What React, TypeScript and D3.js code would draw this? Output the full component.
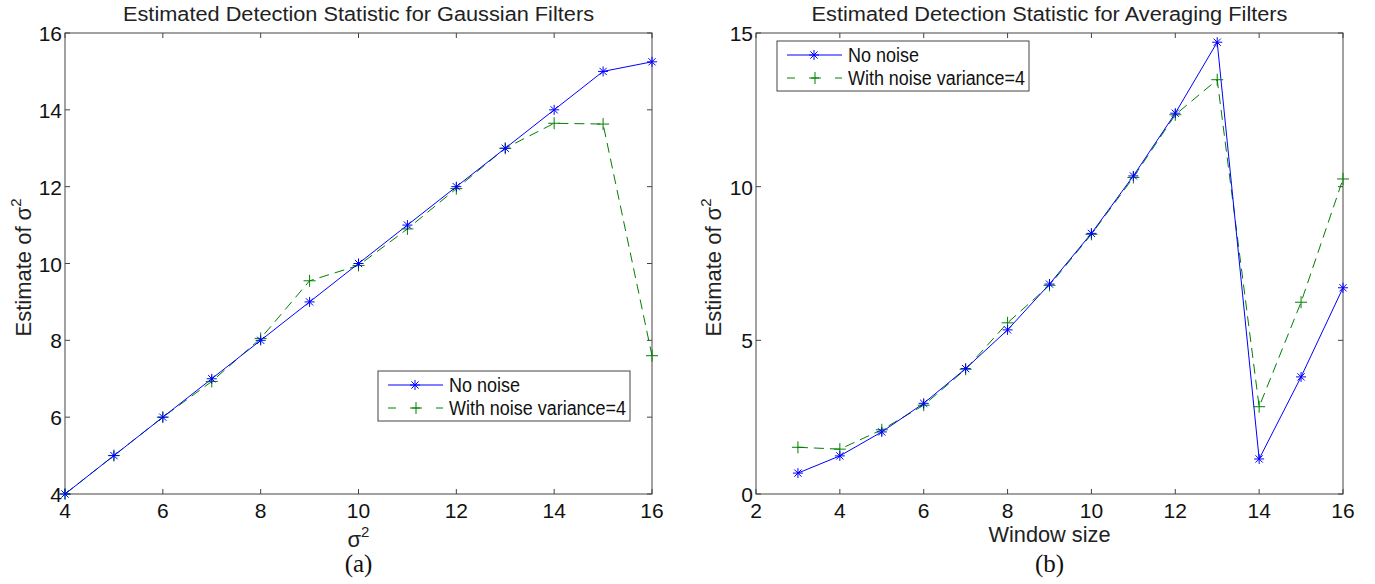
import * as d3 from 'd3';

// Gaussian filters panel
const gaussX = [4, 5, 6, 7, 8, 9, 10, 11, 12, 13, 14, 15, 16];
const gaussNoNoise = [4, 5, 6, 7, 8, 9, 10, 11, 12, 13, 14, 15, 15.25];
const gaussNoisy = [4, 5, 6, 6.93, 8.05, 9.55, 9.95, 10.9, 11.95, 13, 13.65, 13.63, 7.6];
const gaussXTicks = [4, 6, 8, 10, 12, 14, 16];
const gaussYTicks = [4, 6, 8, 10, 12, 14, 16];

// Averaging filters panel
const avgX = [3, 4, 5, 6, 7, 8, 9, 10, 11, 12, 13, 14, 15, 16];
const avgNoNoise = [0.68, 1.24, 2.02, 2.95, 4.08, 5.34, 6.83, 8.48, 10.35, 12.39, 14.7, 1.14, 3.81, 6.71];
const avgNoisy = [1.52, 1.46, 2.09, 2.89, 4.06, 5.57, 6.79, 8.45, 10.3, 12.34, 13.48, 2.84, 6.24, 10.25];
const avgXTicks = [2, 4, 6, 8, 10, 12, 14, 16];
const avgYTicks = [0, 5, 10, 15];

const seriesNames = ['No noise', 'With noise variance=4'];

const SANS = '"Liberation Sans", Arial, Helvetica, sans-serif';
const SERIF = '"Liberation Serif", "Times New Roman", serif';
const AXIS = '#444';
const BLUE = '#0000ff';
const GREEN = '#008000';

const Star = ({ x, y }) => {
  const r = 5;
  const d = r * 0.72;
  return (
    <g stroke={BLUE} strokeWidth={1}>
      <line x1={x - r} x2={x + r} y1={y} y2={y} />
      <line x1={x} x2={x} y1={y - r} y2={y + r} />
      <line x1={x - d} x2={x + d} y1={y - d} y2={y + d} />
      <line x1={x - d} x2={x + d} y1={y + d} y2={y - d} />
    </g>
  );
};

const Plus = ({ x, y }) => {
  const r = 6;
  return (
    <g stroke={GREEN} strokeWidth={1}>
      <line x1={x - r} x2={x + r} y1={y} y2={y} />
      <line x1={x} x2={x} y1={y - r} y2={y + r} />
    </g>
  );
};

const Panel = ({ left, right, top, bottom, xDomain, yDomain, xTicks, yTicks, xs, clean, noisy,
  title, titleWidth, xLabel, caption, legendX, legendY, yLabelX }) => {
  const x = d3.scaleLinear().domain(xDomain).range([left, right]);
  const y = d3.scaleLinear().domain(yDomain).range([bottom, top]);
  const line = d3.line<number>().x((_, i) => x(xs[i])).y((v) => y(v));
  const cx = (left + right) / 2;
  const cy = (top + bottom) / 2;
  const tick = 5;

  return (
    <g>
      <text x={cx} y={21} textAnchor="middle" fontFamily={SANS} fontSize={20}
        textLength={titleWidth} lengthAdjust="spacingAndGlyphs" fill="#222">{title}</text>

      <rect x={left} y={top} width={right - left} height={bottom - top} fill="none" stroke={AXIS} strokeWidth={1} />

      {xTicks.map((t) => (
        <g key={'x' + t}>
          <line x1={x(t)} x2={x(t)} y1={bottom} y2={bottom - tick} stroke={AXIS} />
          <line x1={x(t)} x2={x(t)} y1={top} y2={top + tick} stroke={AXIS} />
          <text x={x(t)} y={518} textAnchor="middle" fontFamily={SANS} fontSize={21} fill="#111">{t}</text>
        </g>
      ))}
      {yTicks.map((t) => (
        <g key={'y' + t}>
          <line x1={left} x2={left + tick} y1={y(t)} y2={y(t)} stroke={AXIS} />
          <line x1={right} x2={right - tick} y1={y(t)} y2={y(t)} stroke={AXIS} />
          <text x={left - 3} y={y(t) + 8} textAnchor="end" fontFamily={SANS} fontSize={21} fill="#111">{t}</text>
        </g>
      ))}

      <path d={line(noisy) || ''} fill="none" stroke={GREEN} strokeWidth={1} strokeDasharray="10,6" />
      <path d={line(clean) || ''} fill="none" stroke={BLUE} strokeWidth={1} />
      {noisy.map((v, i) => <Plus key={'p' + i} x={x(xs[i])} y={y(v)} />)}
      {clean.map((v, i) => <Star key={'s' + i} x={x(xs[i])} y={y(v)} />)}

      <text transform={`translate(${yLabelX},${cy + 4}) rotate(-90)`} textAnchor="middle" fontFamily={SANS} fontSize={22} fill="#222">
        Estimate of σ<tspan fontSize={15} dy={-10}>2</tspan>
      </text>

      {xLabel === 'sigma' ? (
        <text x={cx} y={547} textAnchor="middle" fontFamily={SANS} fontSize={22} fill="#222">
          σ<tspan fontSize={15} dy={-10}>2</tspan>
        </text>
      ) : (
        <text x={cx} y={542} textAnchor="middle" fontFamily={SANS} fontSize={22} fill="#222"
          textLength={122} lengthAdjust="spacingAndGlyphs">{xLabel}</text>
      )}
      <text x={cx} y={572} textAnchor="middle" fontFamily={SERIF} fontSize={25} fill="#111">{caption}</text>

      <g transform={`translate(${legendX},${legendY})`}>
        <rect x={0} y={0} width={252} height={50} fill="#fff" stroke={AXIS} strokeWidth={1} />
        <line x1={10} x2={65} y1={14} y2={14} stroke={BLUE} />
        <Star x={37} y={14} />
        <text x={71} y={21} fontFamily={SANS} fontSize={20} fill="#111" textLength={71} lengthAdjust="spacingAndGlyphs">{seriesNames[0]}</text>
        <line x1={10} x2={65} y1={37} y2={37} stroke={GREEN} strokeDasharray="8,16" />
        <Plus x={38} y={37} />
        <text x={71} y={44} fontFamily={SANS} fontSize={20} fill="#111" textLength={177} lengthAdjust="spacingAndGlyphs">{seriesNames[1]}</text>
      </g>
    </g>
  );
};

export default function App() {
  return (
    <svg width={1375} height={584} style={{ position: 'absolute', left: 0, top: 0, background: '#fff' }}>
      <rect width={1375} height={584} fill="#fff" />
      <Panel left={65} right={652} top={33} bottom={494}
        xDomain={[4, 16]} yDomain={[4, 16]} xTicks={gaussXTicks} yTicks={gaussYTicks}
        xs={gaussX} clean={gaussNoNoise} noisy={gaussNoisy}
        title="Estimated Detection Statistic for Gaussian Filters" titleWidth={471}
        xLabel="sigma" caption="(a)" legendX={378} legendY={371} yLabelX={31} />
      <Panel left={756} right={1343} top={33} bottom={494}
        xDomain={[2, 16]} yDomain={[0, 15]} xTicks={avgXTicks} yTicks={avgYTicks}
        xs={avgX} clean={avgNoNoise} noisy={avgNoisy}
        title="Estimated Detection Statistic for Averaging Filters" titleWidth={476}
        xLabel="Window size" caption="(b)" legendX={777} legendY={41} yLabelX={721} />
    </svg>
  );
}
